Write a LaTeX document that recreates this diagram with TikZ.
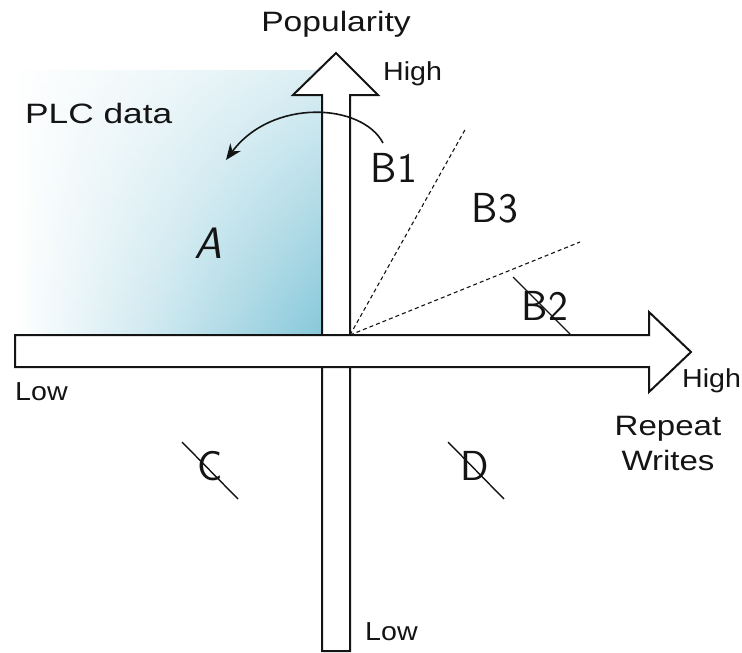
\documentclass[tikz,border=0pt]{standalone}
\usepackage{fontspec}
\setmainfont{Liberation Sans}
\usetikzlibrary{fadings,arrows.meta}
\definecolor{plcblue}{RGB}{135,200,218}
\definecolor{ink}{RGB}{20,20,20}
\tikzfading[name=fadetop, top color=transparent!30, bottom color=transparent!100]

\begin{document}
\begin{tikzpicture}[x=1pt,y=-1pt,
  axisarrow/.style={draw=ink, line width=2pt, fill=white, line join=miter},
  lbl/.style={font=\fontsize{28}{32}\selectfont, text=ink, inner sep=0pt},
  small/.style={font=\fontsize{26}{30}\selectfont, text=ink, inner sep=0pt},
  hand/.style={font=\sffamily\fontsize{42}{42}\selectfont, text=ink, inner sep=0pt},
  strike/.style={draw=ink, line width=1.4pt},
  divider/.style={draw=ink, dash pattern=on 4pt off 3pt, line width=1.1pt},
  swing/.style={draw=ink, line width=1.6pt, -{Stealth[length=16pt,width=13pt]}}]
\useasboundingbox (0,0) rectangle (742,653);

% shaded quadrant (PLC data)
\fill[left color=white, right color=plcblue, middle color=plcblue!45] (15,70) rectangle (322,335);
\fill[white, path fading=fadetop] (15,70) rectangle (322,335);

% vertical axis arrow
\draw[axisarrow] (322,651) -- (322,95) -- (293,95) -- (336,53) -- (378,95)
  -- (350,95) -- (350,651) -- cycle;
% horizontal axis arrow
\draw[axisarrow] (15,335) -- (649,335) -- (649,312) -- (691,352) -- (649,392)
  -- (649,367) -- (15,367) -- cycle;

\coordinate (o) at (350,335);
\coordinate (d1) at (466,128);
\coordinate (d2) at (580,242);
\draw[divider] (o) -- (d1);
\draw[divider] (o) -- (d2);

% axis labels
\node[lbl, anchor=base] (pop) at (336,31) {\scalebox{1.2}[1]{Popularity}};
\node[small, anchor=base west] (yhigh) at (383,80) {\scalebox{1.1}[1]{High}};
\node[small, anchor=base west] (ylow) at (365,640) {\scalebox{1.1}[1]{Low}};
\node[small, anchor=base west] (xlow) at (15,400) {\scalebox{1.1}[1]{Low}};
\node[small, anchor=base west] (xhigh) at (682,387) {\scalebox{1.1}[1]{High}};
\node[lbl, anchor=base] (rw) at (668,435) {\scalebox{1.18}[1]{Repeat}};
\node[lbl, anchor=base] (rw2) at (668,470) {\scalebox{1.18}[1]{Writes}};
\node[lbl, anchor=base west] (plc) at (25,123) {\scalebox{1.26}[1]{PLC data}};

% region labels
\node[hand, font=\sffamily\slshape\fontsize{44}{44}\selectfont] (A) at (208,243) {A};
\node[hand] (B1) at (394,168) {B1};
\node[hand] (B3) at (495,208) {B3};
\node[hand] (B2) at (545,306) {B2};
\node[hand] (C) at (210,466) {C};
\node[hand] (D) at (475,466) {D};

% struck-out regions
\draw[strike] (513,277) -- (570,334);
\draw[strike] (182,442) -- (238,499);
\draw[strike] (448,442) -- (504,499);

% movement of B1 data into A
\coordinate (swingstart) at (383,143);
\coordinate (swingend) at (226,160);
\draw[swing] (swingstart) .. controls (362,103) and (272,98) .. (swingend);
\end{tikzpicture}
\end{document}
